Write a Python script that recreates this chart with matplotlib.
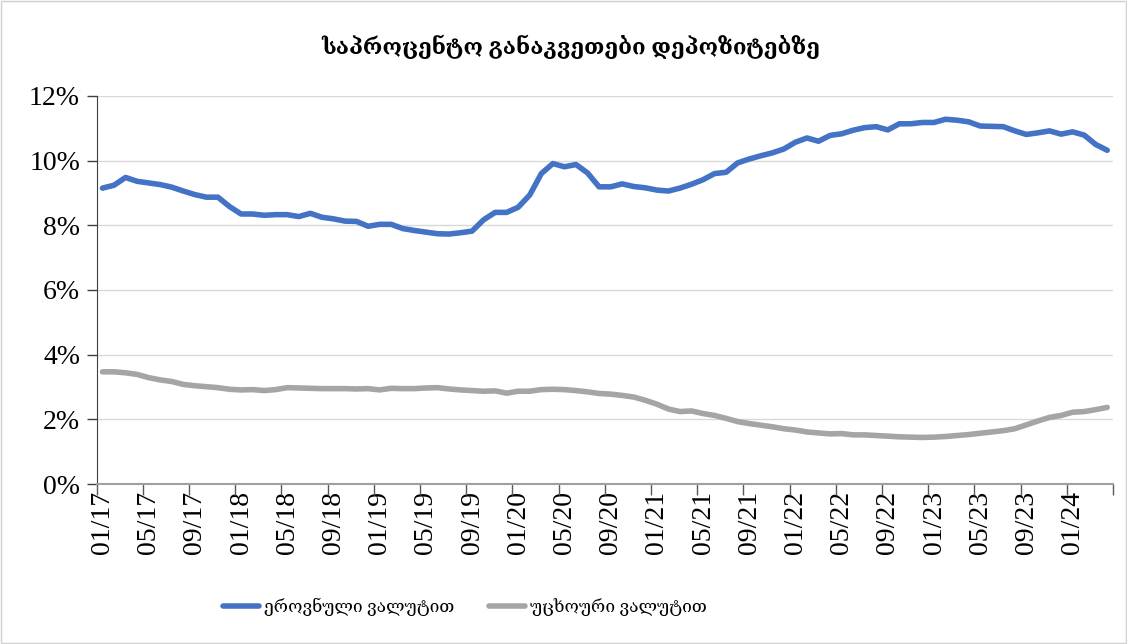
"""
Deposit interest rates (national vs foreign currency), monthly 01/17 - 04/24.
"""

import numpy as np
import pandas as pd
import matplotlib
matplotlib.use("Agg")
import matplotlib.pyplot as plt

plt.rcParams["font.family"] = ["Liberation Serif", "DejaVu Serif"]

TITLE = "საპროცენტო განაკვეთები დეპოზიტებზე"
LABEL_GEL = "ეროვნული ვალუტით"
LABEL_FX = "უცხოური ვალუტით"

months = list(pd.date_range("2017-01-01", periods=88, freq="MS").strftime("%m/%y"))

# national currency, %
rate_gel = [
    9.15, 9.24, 9.48, 9.36, 9.31, 9.26, 9.18, 9.06, 8.95, 8.87,
    8.87, 8.58, 8.35, 8.35, 8.31, 8.33, 8.33, 8.27, 8.37, 8.25,
    8.20, 8.13, 8.12, 7.97, 8.03, 8.03, 7.90, 7.84, 7.79, 7.74,
    7.73, 7.77, 7.82, 8.17, 8.40, 8.40, 8.56, 8.94, 9.60, 9.91,
    9.81, 9.88, 9.62, 9.19, 9.19, 9.28, 9.20, 9.16, 9.09, 9.06,
    9.15, 9.27, 9.41, 9.60, 9.64, 9.93, 10.05, 10.15, 10.24, 10.36,
    10.57, 10.70, 10.60, 10.78, 10.83, 10.94, 11.02, 11.05, 10.95, 11.14,
    11.14, 11.18, 11.18, 11.28, 11.25, 11.20, 11.07, 11.06, 11.05, 10.92,
    10.81, 10.86, 10.92, 10.82, 10.89, 10.79, 10.50, 10.32,
]

# foreign currency, %
rate_fx = [
    3.47, 3.47, 3.44, 3.39, 3.29, 3.22, 3.17, 3.08, 3.04, 3.01,
    2.98, 2.93, 2.91, 2.92, 2.89, 2.92, 2.98, 2.97, 2.96, 2.95,
    2.95, 2.95, 2.94, 2.95, 2.91, 2.96, 2.95, 2.95, 2.97, 2.98,
    2.94, 2.91, 2.89, 2.87, 2.88, 2.81, 2.87, 2.87, 2.92, 2.93,
    2.92, 2.89, 2.85, 2.80, 2.78, 2.74, 2.69, 2.59, 2.47, 2.32,
    2.24, 2.26, 2.18, 2.12, 2.03, 1.93, 1.87, 1.82, 1.77, 1.71,
    1.67, 1.61, 1.58, 1.55, 1.56, 1.52, 1.52, 1.50, 1.48, 1.46,
    1.45, 1.44, 1.45, 1.47, 1.50, 1.53, 1.57, 1.61, 1.65, 1.71,
    1.83, 1.95, 2.06, 2.12, 2.22, 2.24, 2.30, 2.37,
]

BLUE = "#4472C4"
GREY = "#A5A5A5"


def main():
    fig = plt.figure(figsize=(11.27, 6.44), dpi=100)
    ax = fig.add_axes([0.0858, 0.2484, 0.9018, 0.6026])

    x = np.arange(len(months))
    ax.plot(x, rate_gel, color=BLUE, lw=4, solid_capstyle="round",
            solid_joinstyle="round", label=LABEL_GEL, zorder=3)
    ax.plot(x, rate_fx, color=GREY, lw=4, solid_capstyle="round",
            solid_joinstyle="round", label=LABEL_FX, zorder=3)

    ax.set_xlim(-0.5, len(months) - 0.5)
    ax.set_ylim(0, 12)
    ax.set_yticks(np.arange(0, 13, 2))
    ax.set_yticklabels([f"{v}%" for v in range(0, 13, 2)])
    ax.yaxis.grid(True, color="#D9D9D9", lw=1.0)
    ax.set_axisbelow(True)

    # labels on every 4th month, tick marks on category boundaries
    ax.set_xticks(x[::4])
    ax.set_xticklabels(months[::4], rotation=90)
    ax.set_xticks(np.arange(-0.5, len(months), 4), minor=True)
    ax.tick_params(axis="x", which="major", length=0, pad=5, labelsize=20)
    ax.tick_params(axis="x", which="minor", length=8, width=1, color="#595959")
    ax.tick_params(axis="y", length=7, width=1, color="#404040", pad=5, labelsize=20)

    for side in ("top", "right"):
        ax.spines[side].set_visible(False)
    ax.spines["left"].set_color("#404040")
    ax.spines["bottom"].set_color("#A0A0A0")
    ax.spines["bottom"].set_linewidth(1.5)

    fig.text(0.506, 0.927, TITLE, ha="center", va="center", fontsize=16,
             fontweight="bold")

    fig.legend(loc="center left", bbox_to_anchor=(0.19, 0.0575), ncol=2,
               frameon=False, fontsize=12.5, borderpad=0, handlelength=2.1,
               handletextpad=0.25, columnspacing=2.0)

    fig.patches.append(plt.Rectangle((0.001, 0.001), 0.998, 0.998,
                                     transform=fig.transFigure, fill=False,
                                     edgecolor="#D0D0D0", lw=1))
    fig.savefig("out.png", dpi=100)
    plt.close(fig)


if __name__ == "__main__":
    main()
